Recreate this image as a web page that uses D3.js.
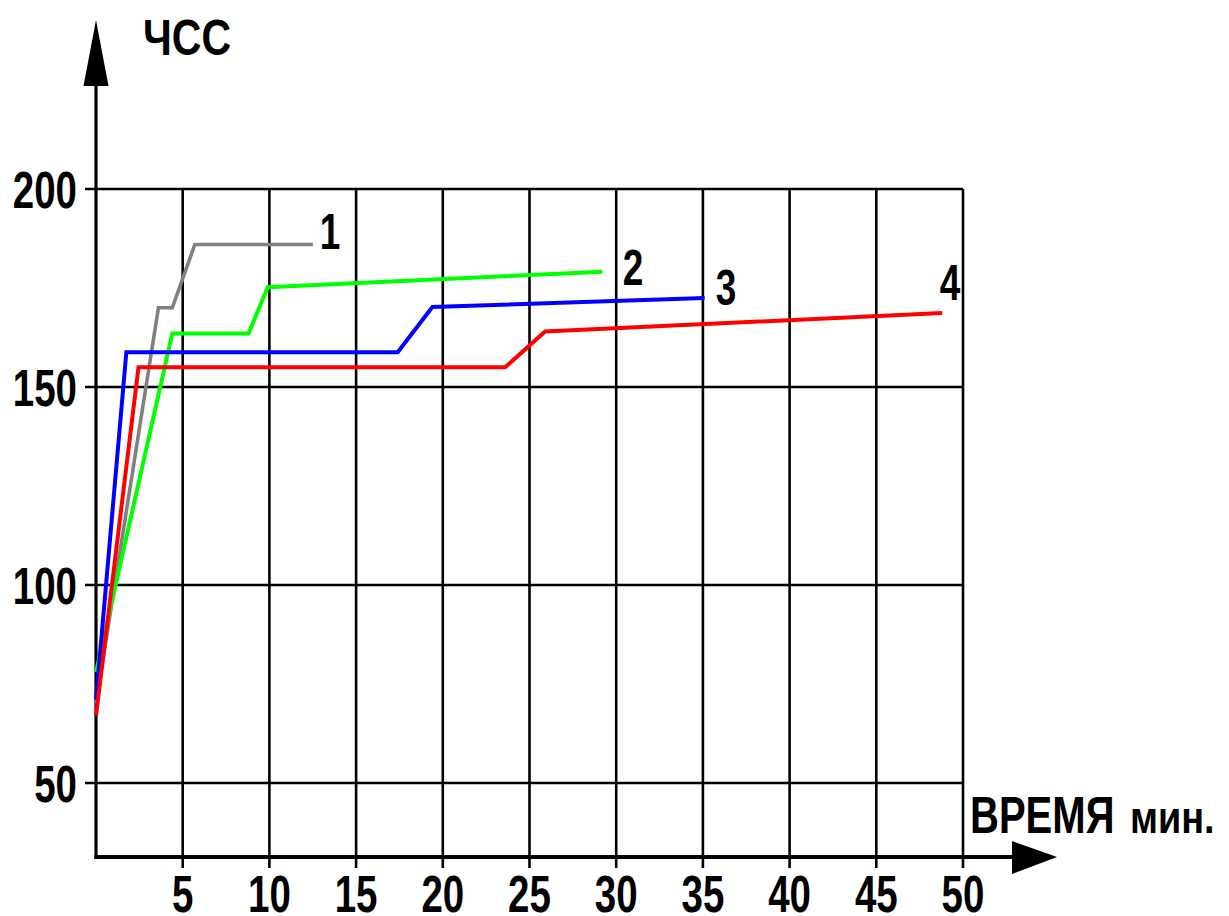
<!DOCTYPE html>
<html>
<head>
<meta charset="utf-8">
<script src="https://cdn.jsdelivr.net/npm/d3@7"></script>
<style>
  html, body { margin: 0; padding: 0; background: #fff; }
  svg { display: block; }
  text { font-family: "Liberation Sans", Arial, sans-serif; font-weight: bold; fill: #000; }
</style>
</head>
<body>
<svg id="chart" width="1229" height="916"></svg>
<script>
// ---- data ----
const xTicks = [5, 10, 15, 20, 25, 30, 35, 40, 45, 50];
const yTicks = [50, 100, 150, 200];
const seriesNames = ["1", "2", "3", "4"];
const seriesColors = ["#808080", "#00ff00", "#0000ff", "#ff0000"];

const time1 = [0, 3.6, 4.4, 5.7, 12.5];
const hr1   = [70, 170, 170, 186, 186];
const time2 = [0, 4.4, 8.8, 9.9, 29.2];
const hr2   = [78, 163.5, 163.5, 175.2, 179.1];
const time3 = [0, 1.75, 17.4, 19.4, 35.1];
const hr3   = [71, 158.8, 158.8, 170.2, 172.5];
const time4 = [0, 2.45, 23.6, 25.9, 48.8];
const hr4   = [67, 155, 155, 164, 168.7];

const yTitle = "ЧСС";
const xTitle = "ВРЕМЯ";
const xUnit = "мин.";

// ---- layout ----
const svg = d3.select("#chart");
const x = d3.scaleLinear().domain([0, 50]).range([96, 963]);
const y = d3.scaleLinear().domain([50, 200]).range([783, 189]);
const axisY = 857;   // pixel row of the time axis
const SX = 0.74;     // horizontal condensing of the bold labels

const series = [
  { name: seriesNames[0], color: seriesColors[0], t: time1, v: hr1, w: 3.6 },
  { name: seriesNames[1], color: seriesColors[1], t: time2, v: hr2, w: 4 },
  { name: seriesNames[2], color: seriesColors[2], t: time3, v: hr3, w: 4 },
  { name: seriesNames[3], color: seriesColors[3], t: time4, v: hr4, w: 4 }
];

// grid: horizontal lines
const g = svg.append("g");
g.selectAll("line.h").data(yTicks).join("line")
  .attr("x1", x(0) - 11).attr("x2", x(50))
  .attr("y1", d => y(d)).attr("y2", d => y(d))
  .attr("stroke", "#000").attr("stroke-width", 2.6);

// grid: vertical lines
g.selectAll("line.v").data(xTicks).join("line")
  .attr("x1", d => x(d)).attr("x2", d => x(d))
  .attr("y1", y(200)).attr("y2", axisY + 11)
  .attr("stroke", "#000").attr("stroke-width", 2.6);

// y axis line + arrow
g.append("line").attr("x1", x(0)).attr("x2", x(0))
  .attr("y1", 60).attr("y2", axisY + 2)
  .attr("stroke", "#000").attr("stroke-width", 3.2);
g.append("path")
  .attr("d", `M${x(0)},20 L${x(0) + 12.5},86 L${x(0) - 12.5},86 Z`)
  .attr("fill", "#000");

// x axis line + arrow
g.append("line").attr("x1", x(0) - 1.5).attr("x2", 1020)
  .attr("y1", axisY).attr("y2", axisY)
  .attr("stroke", "#000").attr("stroke-width", 4.2);
g.append("path")
  .attr("d", `M1057,${axisY} L1012,${axisY - 16} L1012,${axisY + 17} Z`)
  .attr("fill", "#000");

// tick labels
g.selectAll("text.yt").data(yTicks).join("text")
  .attr("transform", d => `translate(${x(0) - 19},${y(d) + 19}) scale(${SX},1)`)
  .attr("text-anchor", "end")
  .attr("font-size", 52)
  .text(d => d);

g.selectAll("text.xt").data(xTicks).join("text")
  .attr("transform", d => `translate(${x(d)},${912}) scale(${SX},1)`)
  .attr("text-anchor", "middle")
  .attr("font-size", 52)
  .text(d => d);

// titles
svg.append("text")
  .attr("transform", `translate(143,55) scale(0.82,1)`)
  .attr("font-size", 50)
  .text(yTitle);
svg.append("text")
  .attr("transform", `translate(970,833) scale(0.77,1)`)
  .attr("font-size", 52)
  .text(xTitle);
svg.append("text")
  .attr("transform", `translate(1130,833) scale(0.86,1)`)
  .attr("font-size", 44)
  .text(xUnit);

// series lines
const line = d3.line().x(d => x(d[0])).y(d => y(d[1]));
svg.append("g").selectAll("path").data(series).join("path")
  .attr("d", s => line(s.t.map((t, i) => [t, s.v[i]])))
  .attr("fill", "none")
  .attr("stroke", s => s.color)
  .attr("stroke-width", s => s.w)
  .attr("stroke-linejoin", "miter");

// series labels
const labelPos = [[330, 249], [633, 285], [726, 305], [950, 300]];
svg.append("g").selectAll("text").data(series).join("text")
  .attr("transform", (s, i) => `translate(${labelPos[i][0]},${labelPos[i][1]}) scale(${SX},1)`)
  .attr("text-anchor", "middle")
  .attr("font-size", 50)
  .text(s => s.name);
</script>
</body>
</html>
